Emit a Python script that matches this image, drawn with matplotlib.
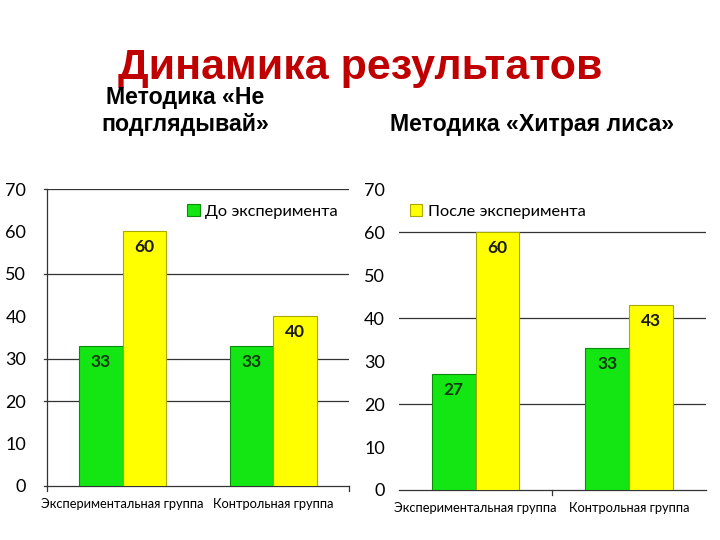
import matplotlib
matplotlib.use('Agg')
import matplotlib.pyplot as plt
from matplotlib.patches import Patch
import numpy as np

# данные
groups = ['Экспериментальная группа', 'Контрольная группа']
left_before = [33, 33]
left_after = [60, 40]
right_before = [27, 33]
right_after = [60, 43]
left_grid = [20, 30, 50, 70]
right_grid = [20, 40, 60]
yticks = [0, 10, 20, 30, 40, 50, 60, 70]

GREEN = '#14E614'
GREEN_EDGE = '#0B8A0B'
YELLOW = '#FFFF00'
YELLOW_EDGE = '#A8A800'
TICK_FONT = 'Lato'

fig = plt.figure(figsize=(7.2, 5.4), dpi=100)
fig.patch.set_facecolor('white')

fig.text(0.5, 0.875, 'Динамика результатов', ha='center', va='center',
         fontsize=31, fontweight='bold', color='#C00000', family='Liberation Sans')
fig.text(0.257, 0.82, 'Методика «Не', ha='center', va='center',
         fontsize=16.7, fontweight='bold', family='Liberation Sans')
fig.text(0.257, 0.77, 'подглядывай»', ha='center', va='center',
         fontsize=16.7, fontweight='bold', family='Liberation Sans')
fig.text(0.739, 0.77, 'Методика «Хитрая лиса»', ha='center', va='center',
         fontsize=16.7, fontweight='bold', family='Liberation Sans')


def draw(ax, before, after, grid, legend_label, legend_color, legend_edge, legend_x, left_spine, mid_tick):
    x = np.arange(len(groups))
    w = 0.285
    b1 = ax.bar(x - w / 2, before, w, color=GREEN, edgecolor=GREEN_EDGE, linewidth=0.8, zorder=3)
    b2 = ax.bar(x + w / 2, after, w, color=YELLOW, edgecolor=YELLOW_EDGE, linewidth=0.8, zorder=3)
    for bars, vals, col in [(b1, before, '#0F3A0F'), (b2, after, '#1A1A1A')]:
        for r, v in zip(bars, vals):
            ax.text(r.get_x() + r.get_width() / 2, v - 3.7, str(v), ha='center', va='center',
                    fontsize=12.5, fontweight='bold', color=col, family=TICK_FONT, zorder=4)
    for g in grid:
        ax.axhline(g, color='#333333', linewidth=0.9, zorder=1)
    ax.set_xlim(-0.5, 1.5)
    ax.set_ylim(0, 70)
    ax.set_yticks(yticks)
    ax.set_yticklabels([str(t) for t in yticks], family=TICK_FONT, fontsize=13)
    ax.set_xticks(x)
    ax.set_xticklabels(groups, family=TICK_FONT, fontsize=9.3)
    ax.tick_params(axis='x', length=0, pad=9)
    for s in ['top', 'right']:
        ax.spines[s].set_visible(False)
    ax.spines['bottom'].set_color('#333333')
    ax.spines['bottom'].set_linewidth(0.9)
    if left_spine:
        ax.spines['left'].set_color('#333333')
        ax.spines['left'].set_linewidth(0.9)
        ax.tick_params(axis='y', length=0, pad=15)
        for g in grid + [0]:
            ax.plot([-0.5 - 0.02, -0.5], [g, g], color='#333333', lw=0.9, clip_on=False)
        for xx in [-0.5, 1.5]:
            ax.plot([xx, xx], [0, -1.2], color='#333333', lw=0.9, clip_on=False)
    else:
        ax.spines['left'].set_visible(False)
        ax.tick_params(axis='y', length=0, pad=10)
    if mid_tick:
        ax.plot([0.5, 0.5], [0, -1.2], color='#333333', lw=0.9, clip_on=False)
    h = Patch(facecolor=legend_color, edgecolor=legend_edge, linewidth=0.8)
    ax.legend([h], [legend_label], loc='center left', bbox_to_anchor=(legend_x, 0.925),
              frameon=False, borderpad=0, borderaxespad=0, handlelength=0.75,
              handleheight=0.75, handletextpad=0.35,
              prop={'family': TICK_FONT, 'size': 11.8})


ax1 = fig.add_axes([0.0653, 0.10, 0.4194, 0.55])
draw(ax1, left_before, left_after, left_grid, 'До эксперимента', GREEN, GREEN_EDGE, 0.465, True, False)

ax2 = fig.add_axes([0.554, 0.0926, 0.4264, 0.557])
draw(ax2, right_before, right_after, right_grid, 'После эксперимента', YELLOW, YELLOW_EDGE, 0.035, False, True)

fig.savefig('out.png', dpi=100, facecolor='white')
